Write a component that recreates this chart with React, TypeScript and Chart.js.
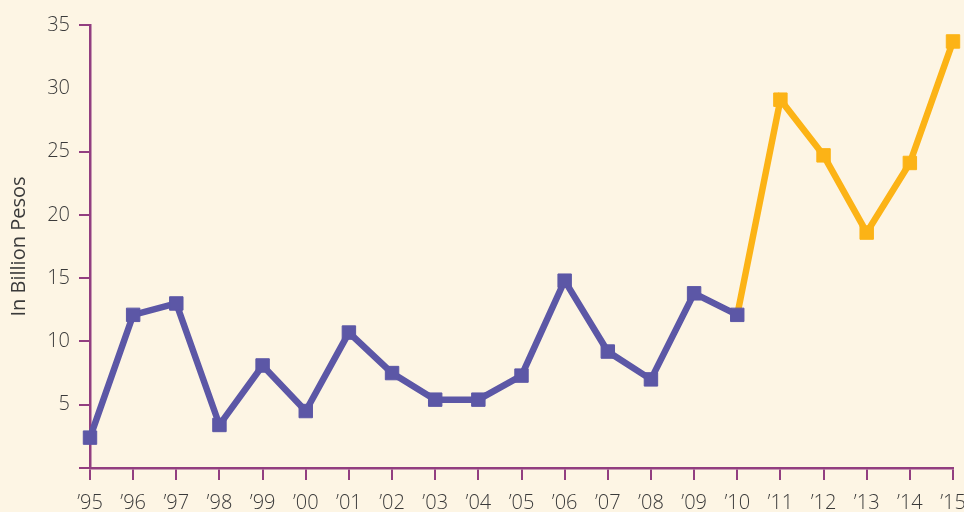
import React, { useEffect, useRef } from "react";
import { Chart, registerables } from "chart.js";

Chart.register(...registerables);

const years = ["’95","’96","’97","’98","’99","’00","’01","’02","’03","’04","’05","’06","’07","’08","’09","’10","’11","’12","’13","’14","’15"];
const earlyValues = [2.4, 12.1, 13.0, 3.4, 8.1, 4.5, 10.7, 7.5, 5.4, 5.4, 7.3, 14.8, 9.2, 7.0, 13.8, 12.1, null, null, null, null, null];
const lateValues = [null, null, null, null, null, null, null, null, null, null, null, null, null, null, null, 12.1, 29.1, 24.7, 18.6, 24.1, 33.7];
const yTicks = [0, 5, 10, 15, 20, 25, 30, 35];
const yTitle = "In Billion Pesos";

const PURPLE = "#5c57a6";
const ORANGE = "#fcb316";
const AXIS = "#923e80";
const TEXT = "#3a3a3a";
const BG = "#fdf5e4";

export default function App() {
  const ref = useRef<HTMLCanvasElement | null>(null);
  useEffect(() => {
    document.body.style.margin = "0";
    document.body.style.background = BG;
    const ctx = ref.current!;
    const chart = new Chart(ctx, {
      type: "line",
      data: {
        labels: years,
        datasets: [
          {
            data: earlyValues,
            borderColor: PURPLE,
            backgroundColor: PURPLE,
            borderWidth: 6.5,
            pointStyle: "rect",
            pointRadius: 9.5,
            pointBorderWidth: 1,
            pointBorderColor: PURPLE,
            pointBackgroundColor: PURPLE,
            tension: 0,
            spanGaps: false,
            order: 1,
          },
          {
            data: lateValues,
            borderColor: ORANGE,
            backgroundColor: ORANGE,
            borderWidth: 6.5,
            pointStyle: "rect",
            pointRadius: (c: any) => (c.dataIndex === 15 ? 0 : 9.5),
            pointBorderWidth: 1,
            pointBorderColor: ORANGE,
            pointBackgroundColor: ORANGE,
            tension: 0,
            order: 2,
          },
        ],
      },
      options: {
        animation: false,
        responsive: false,
        maintainAspectRatio: false,
        layout: { padding: { left: 0, right: 11, top: 25, bottom: 0 }, autoPadding: false } as any,
        plugins: { legend: { display: false }, tooltip: { enabled: false } },
        scales: {
          x: {
            offset: false,
            grid: {
              display: true,
              drawOnChartArea: false,
              drawTicks: true,
              tickLength: 12,
              color: AXIS,
              lineWidth: 2,
            },
            border: { display: true, color: AXIS, width: 2.5 },
            ticks: {
              color: TEXT,
              font: { family: "'Open Sans'", size: 20, weight: "300" as any },
              padding: 11,
              maxRotation: 0,
              autoSkip: false,
            },
            afterFit: (s: any) => {
              s.height = 44;
              s.paddingLeft = 0;
              s.paddingRight = 0;
            },
          },
          y: {
            min: 0,
            max: 35,
            afterBuildTicks: (s: any) => {
              s.ticks = yTicks.map((v) => ({ value: v }));
            },
            grid: {
              display: true,
              drawOnChartArea: false,
              drawTicks: true,
              tickLength: 11,
              color: (c: any) => (c.tick && c.tick.value === 30 ? "rgba(0,0,0,0)" : AXIS),
              lineWidth: 2,
            },
            border: { display: true, color: AXIS, width: 2.5 },
            ticks: {
              color: TEXT,
              font: { family: "'Open Sans'", size: 20, weight: "300" as any },
              padding: 9,
              callback: (v: any) => (v === 0 ? "" : String(v)),
            },
            title: {
              display: true,
              text: yTitle,
              color: TEXT,
              font: { family: "'Open Sans'", size: 20, weight: "normal" as any },
              padding: { top: 7, bottom: 0 },
            },
            afterFit: (s: any) => {
              s.width = 90;
              s.paddingTop = 0;
              s.paddingBottom = 0;
            },
          },
        },
      },
    });
    return () => chart.destroy();
  }, []);
  return (
    <div style={{ width: 964, height: 512, background: BG }}>
      <canvas ref={ref} width={964} height={512} style={{ display: "block" }} />
    </div>
  );
}
